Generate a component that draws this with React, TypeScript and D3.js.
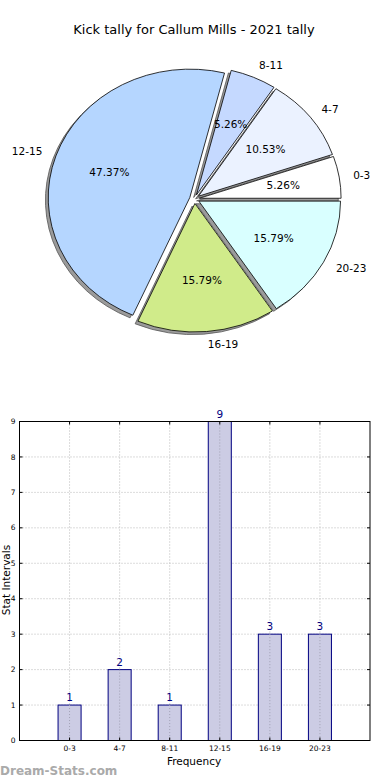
import React from "react";
import * as d3 from "d3";

const categories = ["0-3", "4-7", "8-11", "12-15", "16-19", "20-23"];
const counts = [1, 2, 1, 9, 3, 3];
const sliceColors = ["#ffffff", "#ebf2ff", "#c5d9ff", "#b5d6ff", "#d0eb8a", "#d9ffff"];
const yTicks = [0, 1, 2, 3, 4, 5, 6, 7, 8, 9];
const title = "Kick tally for Callum Mills - 2021 tally";

const FONT = "DejaVu Sans, sans-serif";

export default function App() {
  const W = 390;
  const H = 780;
  const cx = 194.5;
  const cy = 199;
  const rx = 141.7;
  const ry = 128.5;
  const explode = 0.035;
  const total = d3.sum(counts);

  const pie = d3
    .pie<number>()
    .sort(null)
    .value((d) => d)
    .startAngle(Math.PI / 2)
    .endAngle(Math.PI / 2 - 2 * Math.PI);
  const arcs = pie(counts);
  const arcGen = d3.arc<any>().innerRadius(0).outerRadius(1);

  const slices = arcs.map((a, i) => {
    const mid = (a.startAngle + a.endAngle) / 2;
    const theta = Math.PI / 2 - mid;
    const ux = Math.cos(theta);
    const uy = -Math.sin(theta);
    const ox = cx + explode * rx * ux;
    const oy = cy + explode * ry * uy;
    return {
      i,
      path: arcGen(a) as string,
      ox,
      oy,
      ux,
      uy,
      label: categories[i],
      pct: ((counts[i] / total) * 100).toFixed(2) + "%",
    };
  });

  const left = 19.5;
  const right = 370;
  const top = 421.5;
  const bottom = 740.5;
  const x = d3.scaleLinear().domain([-1, 6]).range([left, right]);
  const y = d3.scaleLinear().domain([0, 9]).range([bottom, top]);
  const barW = x(0.46) - x(0);
  const navy = "#000080";

  return (
    <svg width={W} height={H} style={{ position: "absolute", left: 0, top: 0, background: "#fff" }} fontFamily={FONT}>
      <rect x={0} y={0} width={W} height={H} fill="#fff" />
      <text x={194} y={34} fontSize={13} textAnchor="middle" fill="#000">
        {title}
      </text>
      {slices.map((s) => (
        <g key={"sh" + s.i} transform={`translate(${s.ox - 2.8},${s.oy + 2.6}) scale(${rx},${ry})`}>
          <path d={s.path} fill="#7a7a7a" fillOpacity={0.75} stroke="#555" strokeWidth={0.8} vectorEffect="non-scaling-stroke" />
        </g>
      ))}
      {slices.map((s) => (
        <g key={"sl" + s.i} transform={`translate(${s.ox},${s.oy}) scale(${rx},${ry})`}>
          <path d={s.path} fill={sliceColors[s.i]} stroke="#000" strokeWidth={0.8} vectorEffect="non-scaling-stroke" strokeLinejoin="round" />
        </g>
      ))}
      {slices.map((s) => {
        const lx = s.ox + 1.1 * rx * s.ux;
        const ly = s.oy + 1.1 * ry * s.uy;
        const px = s.ox + 0.6 * rx * s.ux;
        const py = s.oy + 0.6 * ry * s.uy;
        return (
          <g key={"lb" + s.i} fontSize={10.5} fill="#000">
            <text x={lx} y={ly} dy="0.35em" textAnchor={s.ux > 0 ? "start" : "end"}>
              {s.label}
            </text>
            <text x={px} y={py} dy="0.35em" textAnchor="middle">
              {s.pct}
            </text>
          </g>
        );
      })}

      {yTicks.map((t) => (
        <line key={"gy" + t} x1={left} x2={right} y1={y(t)} y2={y(t)} stroke="#b8b8b8" strokeWidth={1} strokeDasharray="1,2" />
      ))}
      {categories.map((c, i) => (
        <line key={"gx" + i} x1={x(i)} x2={x(i)} y1={top} y2={bottom} stroke="#b8b8b8" strokeWidth={1} strokeDasharray="1,2" />
      ))}
      {counts.map((v, i) => (
        <rect
          key={"b" + i}
          x={x(i) - barW / 2}
          y={y(v)}
          width={barW}
          height={y(0) - y(v)}
          fill="#ccccE4"
          stroke={navy}
          strokeWidth={1}
        />
      ))}
      {counts.map((v, i) => (
        <line key={"gx2" + i} x1={x(i)} x2={x(i)} y1={y(v)} y2={bottom} stroke="#a0a0b4" strokeWidth={1} strokeDasharray="1,2" />
      ))}
      {counts.map((v, i) => (
        <text key={"v" + i} x={x(i)} y={y(v) - 4} fontSize={10.5} textAnchor="middle" fill={navy}>
          {v}
        </text>
      ))}
      <rect x={left} y={top} width={right - left} height={bottom - top} fill="none" stroke="#000" strokeWidth={1} />
      {yTicks.map((t) => (
        <g key={"yt" + t}>
          <line x1={left} x2={left + 3} y1={y(t)} y2={y(t)} stroke="#000" />
          <line x1={right} x2={right - 3} y1={y(t)} y2={y(t)} stroke="#000" />
          <text x={left - 4} y={y(t)} dy="0.35em" fontSize={7.5} textAnchor="end" fill="#000">
            {t}
          </text>
        </g>
      ))}
      {categories.map((c, i) => (
        <g key={"xt" + i}>
          <line x1={x(i)} x2={x(i)} y1={bottom} y2={bottom - 3} stroke="#000" />
          <line x1={x(i)} x2={x(i)} y1={top} y2={top + 3} stroke="#000" />
          <text x={x(i)} y={bottom + 10} fontSize={7.5} textAnchor="middle" fill="#000">
            {c}
          </text>
        </g>
      ))}
      <text x={194} y={765} fontSize={10.5} textAnchor="middle" fill="#000">
        Frequency
      </text>
      <text transform={`translate(9.5,580) rotate(-90)`} fontSize={10.5} textAnchor="middle" fill="#000">
        Stat Intervals
      </text>
      <text x={0} y={775} fontSize={12} fontWeight="bold" fill="#aaaaaa">
        Dream-Stats.com
      </text>
    </svg>
  );
}
